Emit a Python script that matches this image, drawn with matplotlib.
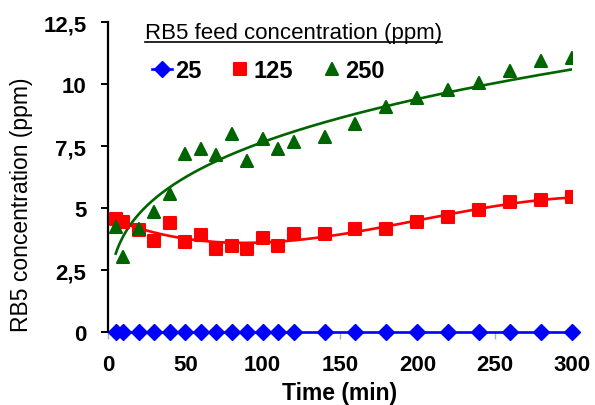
import numpy as np
import matplotlib
matplotlib.use("Agg")
import matplotlib.pyplot as plt
from matplotlib.lines import Line2D
from matplotlib.markers import MarkerStyle

plt.rcParams['font.family'] = ['Liberation Sans', 'DejaVu Sans']

# ---------------------------------------------------------------- data
time = [5, 10, 20, 30, 40, 50, 60, 70, 80, 90, 100, 110, 120,
        140, 160, 180, 200, 220, 240, 260, 280, 300]
c25 = [0.0] * 22
c125 = [4.57, 4.44, 4.10, 3.66, 4.41, 3.64, 3.90, 3.37, 3.46, 3.37, 3.80, 3.49, 3.96,
        3.96, 4.17, 4.17, 4.45, 4.65, 4.92, 5.26, 5.33, 5.43]
c250 = [4.23, 3.03, 4.14, 4.84, 5.56, 7.18, 7.39, 7.14, 8.00, 6.91, 7.79, 7.39, 7.68,
        7.86, 8.40, 9.08, 9.44, 9.75, 10.06, 10.52, 10.93, 11.04]

series_names = ['25', '125', '250']
legend_title = 'RB5 feed concentration (ppm)'
yticks = [0, 2.5, 5, 7.5, 10, 12.5]
ytick_labels = ['0', '2,5', '5', '7,5', '10', '12,5']
xticks = [0, 50, 100, 150, 200, 250, 300]

blue = '#0000FF'
red = '#FF0000'
green = '#006400'

# ---------------------------------------------------------------- trendlines
t = np.array(time, dtype=float)
tt = np.linspace(t.min(), t.max(), 300)
# polynomial (order 3) for 125 ppm, power law for 250 ppm
p_red = np.polyfit(t, c125, 3)
fit_red = np.polyval(p_red, tt)
b_g, lna_g = np.polyfit(np.log(t), np.log(c250), 1)
fit_green = np.exp(lna_g) * tt ** b_g

# ---------------------------------------------------------------- plot
fig = plt.figure(figsize=(5.95, 4.06), dpi=100)
ax = fig.add_axes([108 / 595, 1 - 333 / 406, 464 / 595, 309.7 / 406])

sq = MarkerStyle('s', joinstyle='round')
tri = MarkerStyle('^', joinstyle='round')

ax.plot(tt, fit_red, color=red, lw=1.9, zorder=2)
ax.plot(tt, fit_green, color=green, lw=1.9, zorder=2)
ax.plot(time, c25, color=blue, lw=1.9, marker='D', ms=7.8, mec=blue, zorder=4, clip_on=False)
ax.plot(time, c125, ls='none', color=red, marker=sq, ms=8.3, mew=1.5, zorder=3)
ax.plot(time, c250, ls='none', color=green, marker=tri, ms=9.3, mew=1.5, zorder=3)

ax.set_xlim(0, 300)
ax.set_ylim(0, 12.5)
ax.set_yticks(yticks)
ax.set_yticklabels(ytick_labels)
ax.set_xticks(xticks)

for s in ['top', 'right']:
    ax.spines[s].set_visible(False)
ax.spines['left'].set_linewidth(1.6)
ax.spines['bottom'].set_color('#b0b0b0')
ax.tick_params(axis='y', length=5, width=1.4, pad=10.5, labelsize=16)
ax.tick_params(axis='x', length=5, width=1, color='#b0b0b0', pad=10.5, labelsize=16)
for lab in ax.get_xticklabels() + ax.get_yticklabels():
    lab.set_fontweight('bold')

ax.set_xlabel('Time (min)', fontsize=16.5, fontweight='bold', labelpad=5)
ax.set_ylabel('RB5 concentration (ppm)', fontsize=16.5)
ax.yaxis.set_label_coords(-0.162, 0.413)

# legend
handles = [
    Line2D([], [], color=blue, lw=1.9, marker='D', ms=7.8),
    Line2D([], [], ls='none', color=red, marker=sq, ms=8.3, mew=1.5),
    Line2D([], [], ls='none', color=green, marker=tri, ms=9.3, mew=1.5),
]
ax.legend(handles, series_names, loc='center left', bbox_to_anchor=(0.0948, 0.844),
          ncol=3, frameon=False, handlelength=0.85, handletextpad=0.15,
          columnspacing=1.2, borderpad=0, borderaxespad=0,
          prop={'size': 17, 'weight': 'bold'})

title = fig.text(145 / 595, 1 - 39.3 / 406, legend_title, fontsize=16,
                 ha='left', va='baseline')
fig.canvas.draw()
bb = title.get_window_extent(fig.canvas.get_renderer()).transformed(fig.transFigure.inverted())
y_ul = 1 - 42.7 / 406
fig.add_artist(Line2D([bb.x0, bb.x1], [y_ul, y_ul], color='black', lw=1.2,
                      transform=fig.transFigure))

fig.savefig('out.png', dpi=100)
